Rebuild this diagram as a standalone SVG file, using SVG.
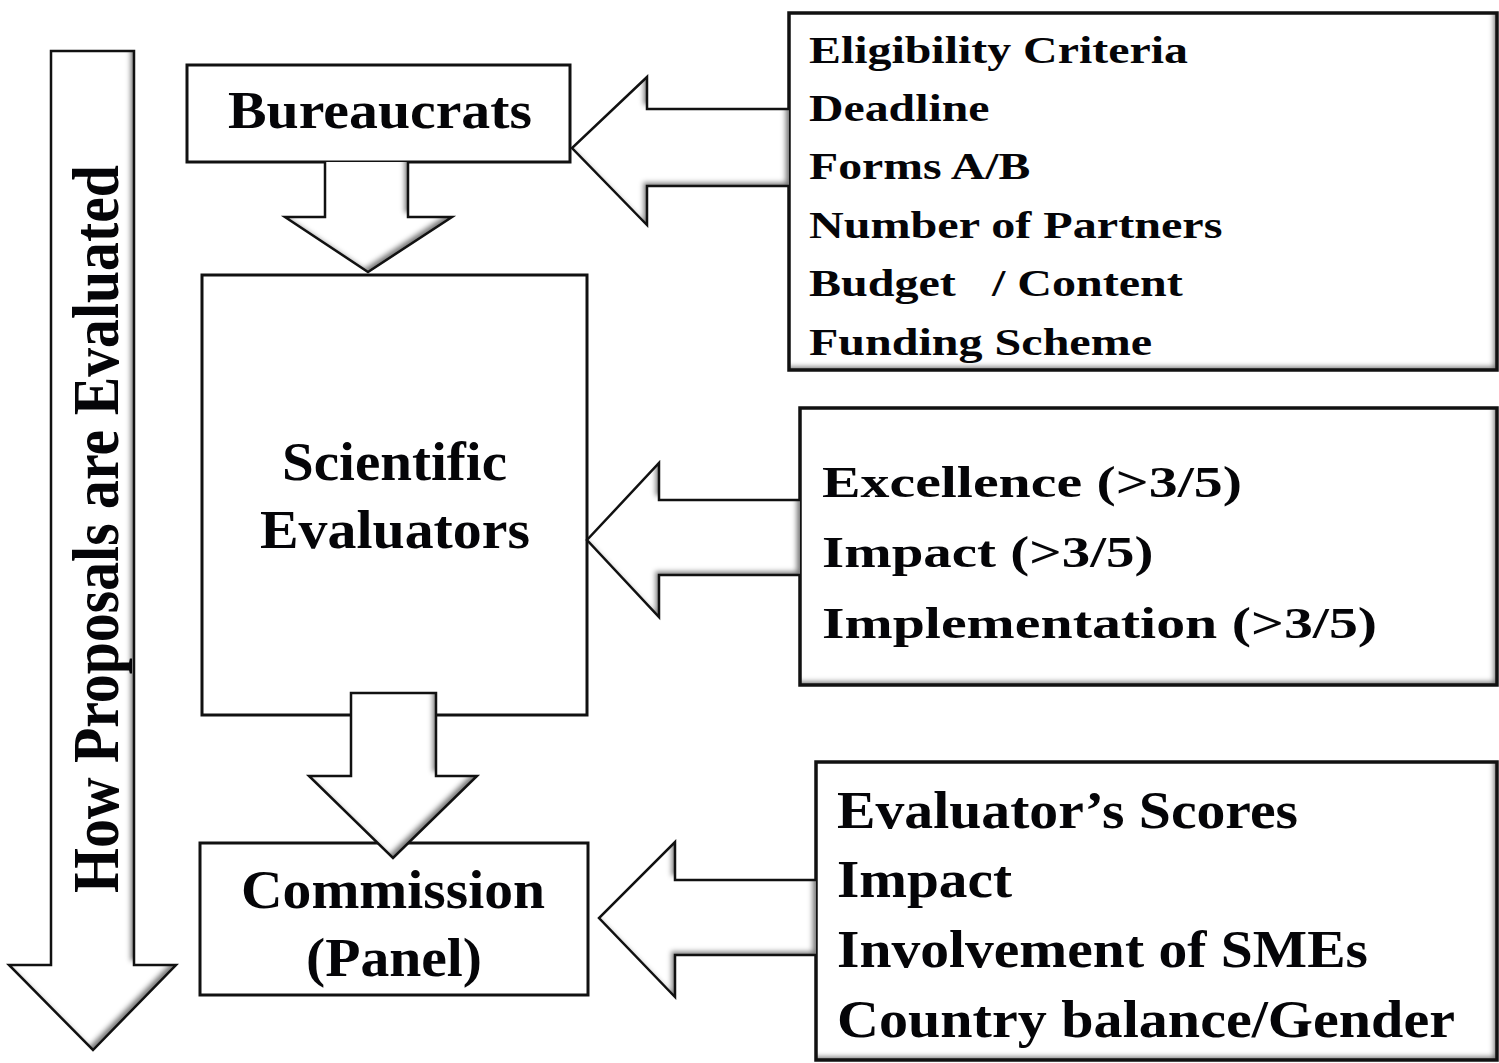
<svg xmlns="http://www.w3.org/2000/svg" width="1499" height="1063" viewBox="0 0 1499 1063">
<defs>
<filter id="inner" x="-5%" y="-5%" width="110%" height="110%">
<feFlood flood-color="#7a7a7a" result="f"/>
<feComposite in="f" in2="SourceAlpha" operator="out" result="o"/>
<feGaussianBlur in="o" stdDeviation="2.5" result="b"/>
<feOffset in="b" dx="-4" dy="-4" result="s"/>
<feComposite in="s" in2="SourceAlpha" operator="in" result="is"/>
<feMerge><feMergeNode in="SourceGraphic"/><feMergeNode in="is"/></feMerge>
</filter>
<style>
.box{fill:#fff;stroke:#111;stroke-width:3}
.sh{fill:#fff;stroke:none;filter:url(#inner)}
.ol{fill:none;stroke:#111;stroke-width:3.5}
.arr{fill:none;stroke:#111;stroke-width:2.5;stroke-linejoin:miter}
.t{font-family:"Liberation Serif","Times New Roman",serif;font-weight:bold;fill:#050508}
.t1{font-size:38px}
.t2{font-size:44px}
.t3{font-size:53px}
.tn{font-size:54px}
</style>
</defs>
<rect width="1499" height="1063" fill="#fff"/>

<g id="process-arrow">
<path class="sh" d="M51,51 H134 V965 H176 L93,1050 L9,965 H51 Z"/>
<path class="arr" d="M51,51 H134 V965 H176 L93,1050 L9,965 H51 Z"/>
<text class="t" font-size="57" textLength="728" lengthAdjust="spacingAndGlyphs" transform="translate(118,893) scale(1.16,1) rotate(-90)">How Proposals are Evaluated</text>
</g>

<g id="bureaucrats">
<rect class="box" x="187" y="65" width="383" height="97"/>
<text class="t" font-size="53" x="228" y="128" textLength="304" lengthAdjust="spacingAndGlyphs">Bureaucrats</text>
</g>

<g id="scientific-evaluators">
<rect class="box" x="202" y="275" width="385" height="440"/>
<text class="t tn" x="282" y="480" textLength="225" lengthAdjust="spacingAndGlyphs">Scientific</text>
<text class="t tn" x="260" y="548" textLength="270" lengthAdjust="spacingAndGlyphs">Evaluators</text>
</g>

<g id="commission">
<rect class="box" x="200" y="843" width="388" height="152"/>
<text class="t tn" x="241" y="908" textLength="304" lengthAdjust="spacingAndGlyphs">Commission</text>
<text class="t tn" x="306" y="976" textLength="176" lengthAdjust="spacingAndGlyphs">(Panel)</text>
</g>

<g id="admin-criteria">
<rect class="sh" x="789" y="13" width="708" height="357"/>
<rect class="ol" x="789" y="13" width="708" height="357"/>
<g transform="translate(809,0) scale(1.28,1)">
<text class="t t1" x="0" y="63" textLength="296" lengthAdjust="spacingAndGlyphs">Eligibility Criteria</text>
<text class="t t1" x="0" y="121" textLength="141" lengthAdjust="spacingAndGlyphs">Deadline</text>
<text class="t t1" x="0" y="179" textLength="173" lengthAdjust="spacingAndGlyphs">Forms A/B</text>
<text class="t t1" x="0" y="238" textLength="323" lengthAdjust="spacingAndGlyphs">Number of Partners</text>
<text class="t t1" x="0" y="296" textLength="292" lengthAdjust="spacingAndGlyphs" xml:space="preserve">Budget   / Content</text>
<text class="t t1" x="0" y="355" textLength="268" lengthAdjust="spacingAndGlyphs">Funding Scheme</text>
</g>
</g>

<g id="scientific-criteria">
<rect class="sh" x="800" y="408" width="697" height="277"/>
<rect class="ol" x="800" y="408" width="697" height="277"/>
<g transform="translate(822,0) scale(1.3,1)">
<text class="t t2" x="0" y="497" textLength="323" lengthAdjust="spacingAndGlyphs">Excellence (&gt;3/5)</text>
<text class="t t2" x="0" y="567" textLength="255" lengthAdjust="spacingAndGlyphs">Impact (&gt;3/5)</text>
<text class="t t2" x="0" y="638" textLength="427" lengthAdjust="spacingAndGlyphs">Implementation (&gt;3/5)</text>
</g>
</g>

<g id="panel-criteria">
<rect class="sh" x="816" y="762" width="681" height="298"/>
<rect class="ol" x="816" y="762" width="681" height="298"/>
<text class="t t3" x="837" y="828" textLength="461" lengthAdjust="spacingAndGlyphs">Evaluator’s Scores</text>
<text class="t t3" x="837" y="897" textLength="175" lengthAdjust="spacingAndGlyphs">Impact</text>
<text class="t t3" x="837" y="967" textLength="531" lengthAdjust="spacingAndGlyphs">Involvement of SMEs</text>
<text class="t t3" x="837" y="1037" textLength="618" lengthAdjust="spacingAndGlyphs">Country balance/Gender</text>
</g>

<g id="connectors">
<path class="sh" d="M789,109 H647 V77 L572,148 L647,225 V186 H789 Z"/>
<path class="arr" d="M789,109 H647 V77 L572,148 L647,225 V186 H789"/>
<path class="sh" d="M325,162 V217 H285 L368,272 L452,217 H408 V162 Z"/>
<path class="arr" d="M325,162 V217 H285 L368,272 L452,217 H408 V162"/>
<path class="sh" d="M800,500 H659 V463 L587,540 L659,617 V575 H800 Z"/>
<path class="arr" d="M800,500 H659 V463 L587,540 L659,617 V575 H800"/>
<path class="sh" d="M351,693 H436 V776 H477 L393,858 L309,776 H351 Z"/>
<path class="arr" d="M351,693 H436 V776 H477 L393,858 L309,776 H351 Z"/>
<path class="sh" d="M816,880 H675 V842 L599,918 L675,997 V955 H816 Z"/>
<path class="arr" d="M816,880 H675 V842 L599,918 L675,997 V955 H816"/>
</g>
</svg>
